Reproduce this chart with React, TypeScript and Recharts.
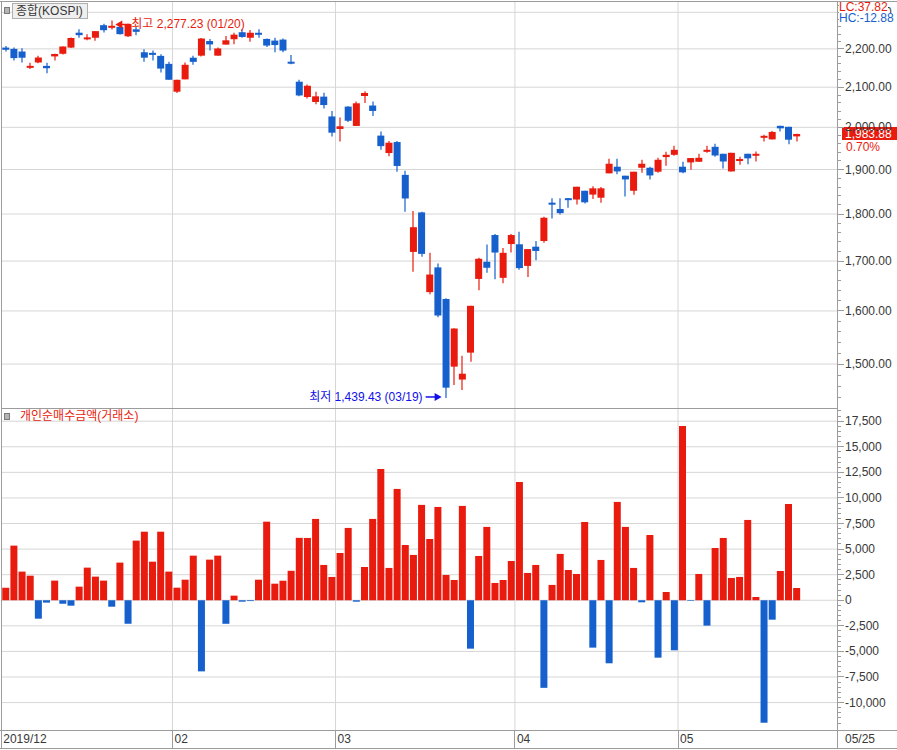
import React from 'react';
import { ComposedChart, Bar, XAxis, YAxis, ReferenceLine, ReferenceDot, Cell } from 'recharts';

// trading days, 2019/12/30 ~ 2020/05/25
const dates = [
  '12/30',
  '01/02', '01/03', '01/06', '01/07', '01/08', '01/09', '01/10', '01/13', '01/14', '01/15',
  '01/16', '01/17', '01/20', '01/21', '01/22', '01/23', '01/28', '01/29', '01/30', '01/31',
  '02/03', '02/04', '02/05', '02/06', '02/07', '02/10', '02/11', '02/12', '02/13', '02/14',
  '02/17', '02/18', '02/19', '02/20', '02/21', '02/24', '02/25', '02/26', '02/27', '02/28',
  '03/02', '03/03', '03/04', '03/05', '03/06', '03/09', '03/10', '03/11', '03/12', '03/13',
  '03/16', '03/17', '03/18', '03/19', '03/20', '03/23', '03/24', '03/25', '03/26', '03/27',
  '03/30', '03/31',
  '04/01', '04/02', '04/03', '04/06', '04/07', '04/08', '04/09', '04/10', '04/13', '04/14',
  '04/16', '04/17', '04/20', '04/21', '04/22', '04/23', '04/24', '04/27', '04/28', '04/29',
  '05/04', '05/06', '05/07', '05/08', '05/11', '05/12', '05/13', '05/14', '05/15', '05/18',
  '05/19', '05/20', '05/21', '05/22', '05/25',
];

const opens = [
  2203.5,
  2200, 2193, 2154, 2164, 2155, 2180, 2187, 2203.5, 2243.7, 2229.5,
  2230, 2264.3, 2261, 2259.7, 2234, 2253, 2191, 2189.4, 2181.4, 2160.3,
  2088.5, 2120, 2176.5, 2182, 2221, 2182, 2211.5, 2226, 2245, 2230,
  2243.5, 2226.8, 2222.3, 2225, 2166, 2114, 2075, 2062.6, 2076, 2026.6,
  1996, 2051, 2003.4, 2077.6, 2053.7, 1980, 1938.5, 1964.5, 1887.7, 1719,
  1803.6, 1637, 1687, 1623.4, 1495.3, 1472, 1521, 1663.5, 1698.5, 1754.6,
  1665.7, 1735.5,
  1735, 1690, 1730, 1742, 1825, 1811, 1835, 1832, 1851.6, 1843,
  1836, 1891.2, 1906.5, 1885.8, 1851.6, 1904.1, 1904.1, 1895, 1929, 1934.3,
  1906.5, 1916.5, 1918, 1941.4, 1953.2, 1936.7, 1895.6, 1923.5, 1936.7, 1932.7,
  1975.4, 1970.9, 2003.6, 2001.2, 1978.1,
];

const highs = [
  2208,
  2203.5, 2202, 2163, 2182, 2163, 2187, 2206.4, 2230.4, 2252.8, 2239.4,
  2248, 2268, 2277.23, 2266, 2268, 2259.7, 2199, 2195.6, 2186, 2166,
  2119.3, 2164, 2182, 2229.5, 2226.8, 2203.4, 2234.8, 2243.7, 2252.8, 2251,
  2252.8, 2228, 2230, 2228, 2184, 2119, 2106.8, 2088.6, 2086, 2040,
  2023.8, 2052, 2064, 2089.6, 2064, 1990, 1967, 1967, 1897, 1806.4,
  1805, 1717, 1695, 1625, 1566.5, 1515, 1610, 1707, 1734.7, 1757,
  1727, 1757,
  1761.7, 1724.9, 1742, 1794, 1834.8, 1835, 1835.5, 1860.7, 1851.6, 1862,
  1860, 1925, 1925, 1885.8, 1895, 1922.7, 1906.5, 1927.3, 1941.4, 1955.6,
  1918, 1926.7, 1936.7, 1955.6, 1960.4, 1936.7, 1939, 1929.6, 1936.7, 1942.1,
  1981.9, 1991, 2003.6, 2001.2, 1984.3,
];

const lows = [
  2193,
  2169, 2164, 2147, 2162, 2136, 2169, 2185, 2202.7, 2230, 2223,
  2222, 2244, 2252.7, 2238.5, 2232, 2237, 2166, 2169, 2138, 2119,
  2085, 2120, 2158, 2180, 2195.6, 2182, 2211.5, 2212.6, 2230, 2219.5,
  2230, 2205, 2191, 2191, 2159, 2077, 2071, 2057, 2046, 1978,
  1966, 2013, 2003, 2060, 2028, 1946, 1930.8, 1895, 1805, 1678,
  1709, 1633, 1588, 1439.43, 1462.4, 1453.5, 1504.4, 1641, 1676, 1663,
  1655, 1718,
  1682, 1667.6, 1701.6, 1738, 1790, 1799, 1814, 1821, 1823, 1833,
  1825, 1891.2, 1888.9, 1839, 1842.6, 1892.7, 1877.3, 1892.7, 1908.8, 1932,
  1891.2, 1899.5, 1918, 1939, 1929.6, 1902.5, 1895.6, 1911.1, 1912, 1918.7,
  1966, 1970.9, 1990, 1959, 1966,
];

const closes = [
  2197.7,
  2175.5, 2176.5, 2155.1, 2177, 2149, 2186.5, 2206.4, 2229.3, 2237, 2231,
  2248, 2250.6, 2262.6, 2239.7, 2267.3, 2246.1, 2176.7, 2185.3, 2148, 2119,
  2118.9, 2157.9, 2165.6, 2227.9, 2212, 2201.1, 2223.1, 2238.4, 2232.1, 2243.6,
  2242.2, 2208.9, 2210.3, 2195.5, 2162.8, 2079, 2103.6, 2076.8, 2054.9, 1987,
  2002.5, 2016, 2059.3, 2085.3, 2040.2, 1954.8, 1962.9, 1908.3, 1834.3, 1771.4,
  1714.9, 1672.4, 1591.2, 1457.6, 1566.2, 1482.5, 1610, 1704.8, 1686.2, 1717.7,
  1717.1, 1754.6,
  1685.5, 1724.9, 1721, 1791.9, 1823.6, 1802, 1832, 1860.7, 1825.8, 1857.1,
  1857.1, 1913.4, 1895.6, 1877.3, 1895, 1913.4, 1886.4, 1922.7, 1934.3, 1946.1,
  1893.5, 1926.7, 1927.3, 1946.1, 1932.7, 1918.7, 1939, 1924.4, 1926, 1936.7,
  1979.5, 1988.8, 1997.5, 1970.13, 1983.88,
];

// 개인 순매수 금액 (거래소)
const netBuy = [
  1230,
  5340, 2800, 2400, -1800, -230, 1920, -330, -530, 1330, 3190,
  2310, 1920, -630, 3680, -2300, 5830, 6700, 3770, 6700, 2800,
  1230, 2010, 4360, -6950, 3970, 4360, -2300, 450, -140, -80,
  2010, 7680, 1620, 1910, 2880, 6100, 6090, 7950, 3450, 2280,
  4620, 7070, -140, 3250, 7950, 12830, 3160, 10880, 5400, 4430,
  9320, 5990, 9120, 2470, 1980, 9220, -4730, 4330, 7170, 1690,
  1980, 3840,
  11560, 2670, 3450, -8560, 1500, 4530, 2960, 2570, 7650, -4630,
  3940, -6160, 9610, 7170, 3160, -200, 6380, -5610, 810, -4890,
  17040, -60, 2570, -2480, 5110, 6090, 2180, 2280, 7850, 320,
  -11970, -1900, 2860, 9410, 1200,
];

const monthTicks = [-0.5, 20.5, 40.5, 62.5, 82.5];
const monthLabels = ['2019/12', '02', '03', '04', '05'];
const priceTicks = [1500, 1600, 1700, 1800, 1900, 2000, 2100, 2200, 2300];
const netTicks = [-10000, -7500, -5000, -2500, 0, 2500, 5000, 7500, 10000, 12500, 15000, 17500];

const RED = '#e81b0e';
const BLUE = '#1560cc';
const GRID = '#d6d6d6';
const FRAME = '#9c9c9c';
const TEXT = '#383838';
const FONT = "'Liberation Sans', 'Noto Sans CJK KR', sans-serif";

const W = 897;
const AXIS_W = 60;
const xDomain = [-0.53, 102];
const priceDomain = [1422, 2329];
const netDomain = [-12680, 18790];

const priceMinor = Array.from({ length: 45 }, (_, k) => 1440 + k * 20).filter((v) => v % 100 !== 0);
const netMinor = Array.from({ length: 63 }, (_, k) => -12500 + k * 500).filter((v) => v % 2500 !== 0);

const candleData = dates.map((date, i) => ({
  i,
  date,
  open: opens[i],
  high: highs[i],
  low: lows[i],
  close: closes[i],
}));
const netData = dates.map((date, i) => ({ i, date, net: netBuy[i] }));

const hiIdx = highs.indexOf(Math.max(...highs));
const loIdx = lows.indexOf(Math.min(...lows));
const last = closes.length - 1;
const lastChange = ((closes[last] - closes[last - 1]) / closes[last - 1]) * 100;

const fmt2 = (v: number) => v.toLocaleString('en-US', { minimumFractionDigits: 2, maximumFractionDigits: 2 });
const fmt0 = (v: number) => v.toLocaleString('en-US');

function Candle(props: any) {
  const { x, y, width, height, payload } = props;
  if (x == null || !payload) return null;
  const top = Math.min(y, y + height);
  const h = Math.abs(height);
  const lh = Math.log(payload.high);
  const ll = Math.log(payload.low);
  // log scale: place open/close between the high and low ends
  const toY = (v: number) => (lh === ll ? top : top + (h * (lh - Math.log(v))) / (lh - ll));
  const yo = toY(payload.open);
  const yc = toY(payload.close);
  const color = payload.close >= payload.open ? RED : BLUE;
  const cx = Math.round(x + width / 2);
  const bodyH = Math.max(Math.abs(yo - yc), 2);
  return (
    <g>
      <line x1={cx} x2={cx} y1={top} y2={top + h} stroke={color} strokeWidth={1.2} />
      <rect x={x} y={Math.min(yo, yc)} width={width} height={bodyH} fill={color} />
    </g>
  );
}

function PriceTick({ x, y, payload }: any) {
  const major = priceTicks.includes(payload.value);
  return (
    <g>
      <line x1={x} x2={x + (major ? 7 : 4)} y1={y} y2={y} stroke={FRAME} shapeRendering="crispEdges" />
      {major && (
        <text x={x + 8} y={y} dominantBaseline="central" fontSize={12} fill={TEXT}>
          {fmt2(payload.value)}
        </text>
      )}
    </g>
  );
}

function NetTick({ x, y, payload }: any) {
  const major = netTicks.includes(payload.value);
  return (
    <g>
      <line x1={x} x2={x + (major ? 7 : 4)} y1={y} y2={y} stroke={FRAME} shapeRendering="crispEdges" />
      {major && (
        <text x={x + 8} y={y} dominantBaseline="central" fontSize={12} fill={TEXT}>
          {fmt0(payload.value)}
        </text>
      )}
    </g>
  );
}

function MonthTick({ x, y, payload }: any) {
  const label = monthLabels[monthTicks.indexOf(payload.value)];
  return (
    <g>
      <line x1={x} x2={x} y1={y} y2={y + 18} stroke={FRAME} shapeRendering="crispEdges" />
      <text x={x + 2} y={y + 9} dominantBaseline="central" fontSize={12} fill={TEXT}>
        {label}
      </text>
    </g>
  );
}

function HighMark({ cx, cy }: any) {
  const tx = cx + 4;
  const ty = cy + 4;
  return (
    <g>
      <polygon points={`${tx},${ty} ${tx + 7},${ty - 4} ${tx + 7},${ty + 4}`} fill={RED} />
      <line x1={tx + 6} x2={tx + 15} y1={ty} y2={ty} stroke={RED} strokeWidth={1.5} />
      <text x={tx + 16} y={ty} dominantBaseline="central" fontSize={12} fill={RED}>
        {`최고 ${fmt2(highs[hiIdx])} (${dates[hiIdx]})`}
      </text>
    </g>
  );
}

function LowMark({ cx, cy }: any) {
  const tx = cx - 4;
  const ty = cy - 1;
  return (
    <g>
      <polygon points={`${tx},${ty} ${tx - 7},${ty - 4} ${tx - 7},${ty + 4}`} fill="#1010e8" />
      <line x1={tx - 6} x2={tx - 16} y1={ty} y2={ty} stroke="#1010e8" strokeWidth={1.5} />
      <text x={tx - 19} y={ty} dominantBaseline="central" textAnchor="end" fontSize={12} fill="#1010e8">
        {`최저 ${fmt2(lows[loIdx])} (${dates[loIdx]})`}
      </text>
    </g>
  );
}

function PriceTag(props: any) {
  const { viewBox } = props;
  if (!viewBox) return null;
  const left = viewBox.x + viewBox.width + 5;
  const y = viewBox.y;
  return (
    <g>
      <rect x={left} y={y - 7} width={W - left} height={13} fill={RED} />
      <text x={left + 3} y={y} dominantBaseline="central" fontSize={12} fill="#fff">
        {fmt2(closes[last])}
      </text>
      <text x={left + 4} y={y + 13} dominantBaseline="central" fontSize={12} fill={RED}>
        {`${lastChange.toFixed(2)}%`}
      </text>
    </g>
  );
}

const line = (left: number, top: number, width: number, height: number) => (
  <div style={{ position: 'absolute', left, top, width, height, background: FRAME }} />
);

export default function App() {
  return (
    <div style={{ position: 'relative', width: W, height: 750, background: '#fff', fontFamily: FONT, overflow: 'hidden' }}>
      <style>{'body{margin:0}'}</style>

      <div style={{ position: 'absolute', left: 0, top: 0 }}>
        <ComposedChart width={W} height={408} data={candleData} margin={{ top: 2, right: 0, bottom: 0, left: 1 }}>
          <XAxis dataKey="i" type="number" domain={xDomain} allowDataOverflow hide />
          <YAxis
            orientation="right"
            width={AXIS_W}
            scale="log"
            domain={priceDomain}
            allowDataOverflow
            ticks={[...priceTicks, ...priceMinor]}
            interval={0}
            tick={<PriceTick />}
            tickLine={false}
            axisLine={false}
            tickSize={0}
            tickMargin={0}
          />
          {priceTicks.map((v) => (
            <ReferenceLine key={`pg${v}`} y={v} stroke={GRID} zIndex={-50} />
          ))}
          {monthTicks.slice(1).map((v) => (
            <ReferenceLine key={`pv${v}`} x={v} stroke={GRID} zIndex={-50} />
          ))}
          <Bar dataKey={(d: any) => [d.low, d.high]} barSize={7} shape={<Candle />} isAnimationActive={false} />
          <ReferenceDot x={hiIdx} y={highs[hiIdx]} r={0} shape={<HighMark />} ifOverflow="visible" />
          <ReferenceDot x={loIdx} y={lows[loIdx]} r={0} shape={<LowMark />} ifOverflow="visible" />
          <ReferenceLine y={closes[last]} stroke="none" label={(p: any) => <PriceTag {...p} />} />
        </ComposedChart>
      </div>

      <div style={{ position: 'absolute', left: 0, top: 408 }}>
        <ComposedChart width={W} height={340} data={netData} margin={{ top: 0, right: 0, bottom: 0, left: 1 }}>
          <XAxis
            dataKey="i"
            type="number"
            domain={xDomain}
            allowDataOverflow
            ticks={monthTicks}
            interval={0}
            height={18}
            tick={<MonthTick />}
            tickLine={false}
            axisLine={false}
            tickSize={0}
            tickMargin={0}
          />
          <YAxis
            orientation="right"
            width={AXIS_W}
            domain={netDomain}
            allowDataOverflow
            ticks={[...netTicks, ...netMinor]}
            interval={0}
            tick={<NetTick />}
            tickLine={false}
            axisLine={false}
            tickSize={0}
            tickMargin={0}
          />
          {netTicks.map((v) => (
            <ReferenceLine key={`ng${v}`} y={v} stroke={GRID} zIndex={-50} />
          ))}
          {monthTicks.slice(1).map((v) => (
            <ReferenceLine key={`nv${v}`} x={v} stroke={GRID} zIndex={-50} />
          ))}
          <Bar dataKey="net" barSize={7} isAnimationActive={false}>
            {netData.map((d) => (
              <Cell key={d.i} fill={d.net >= 0 ? RED : BLUE} />
            ))}
          </Bar>
        </ComposedChart>
      </div>

      {/* frame */}
      {line(0, 1, W, 1)}
      {line(1, 1, 1, 747)}
      {line(1, 408, 836, 1)}
      {line(0, 730, W, 1)}
      {line(0, 748, W, 1)}
      {line(837, 1, 1, 747)}

      {/* legends */}
      <div style={{ position: 'absolute', left: 4, top: 7, width: 4, height: 5, background: '#b4b4b4', border: '1px solid #7a7a7a' }} />
      <div
        style={{
          position: 'absolute',
          left: 12,
          top: 3,
          width: 71,
          height: 14,
          paddingLeft: 3,
          border: '1px solid #b0b0b0',
          background: '#efefef',
          color: TEXT,
          fontSize: 12,
          lineHeight: '14px',
        }}
      >
        종합(KOSPI)
      </div>
      <div style={{ position: 'absolute', left: 4, top: 413, width: 4, height: 5, background: '#b4b4b4', border: '1px solid #7a7a7a' }} />
      <div style={{ position: 'absolute', left: 20, top: 409, color: RED, fontSize: 12, lineHeight: '15px' }}>
        개인순매수금액(거래소)
      </div>

      {/* right-top info */}
      <div style={{ position: 'absolute', left: 839, top: 2, height: 11, background: '#fff', color: RED, fontSize: 12, lineHeight: '11px' }}>
        LC:37.82
      </div>
      <div style={{ position: 'absolute', left: 839, top: 13, height: 11, background: '#fff', color: BLUE, fontSize: 12, lineHeight: '11px' }}>
        HC:-12.88
      </div>

      <div style={{ position: 'absolute', left: 845, top: 731, color: TEXT, fontSize: 12, lineHeight: '17px' }}>
        {dates[last]}
      </div>
    </div>
  );
}
